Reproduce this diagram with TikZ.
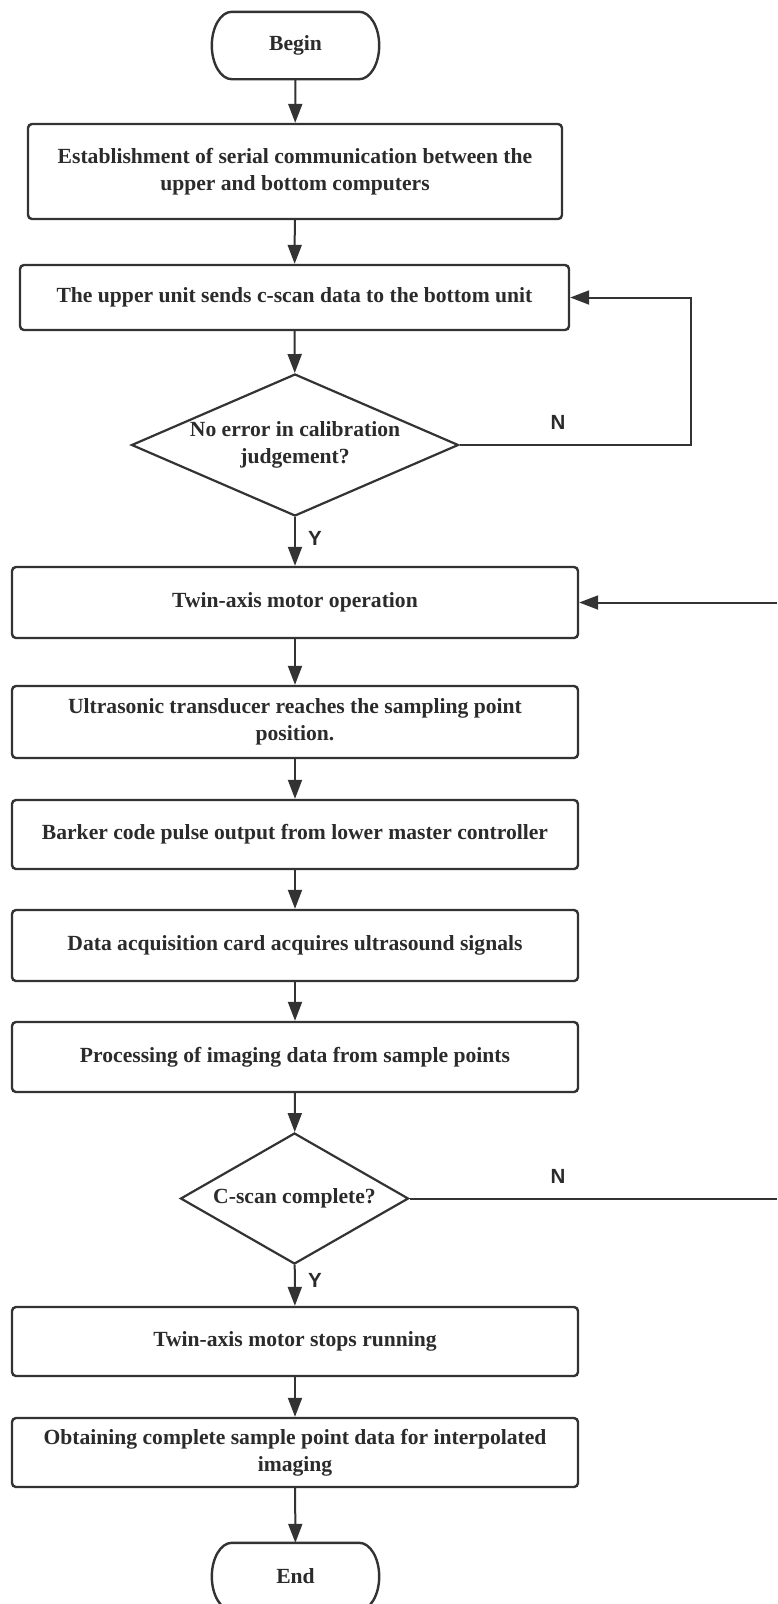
\documentclass[tikz,border=0pt]{standalone}
\usepackage{fontspec}
\setmainfont{Liberation Serif}
\newfontfamily\labelfont{Liberation Sans}
\usetikzlibrary{shapes.geometric,arrows.meta,calc}
\definecolor{ink}{HTML}{333333}
\definecolor{txt}{HTML}{2B2B2B}

% outline of a start/stop terminal drawn around a node's border
\newcommand\terminalpath[1]{%
  \draw[boxline]
    ($(#1.north west)+(20,0)$) -- ($(#1.north east)+(-20,0)$)
    .. controls ($(#1.north east)+(-9,0)$) and ($(#1.east)+(0,-18.5)$) .. (#1.east)
    .. controls ($(#1.east)+(0,18.5)$) and ($(#1.south east)+(-9,0)$) .. ($(#1.south east)+(-20,0)$)
    -- ($(#1.south west)+(20,0)$)
    .. controls ($(#1.south west)+(9,0)$) and ($(#1.west)+(0,18.5)$) .. (#1.west)
    .. controls ($(#1.west)+(0,-18.5)$) and ($(#1.north west)+(9,0)$) .. cycle;}

\begin{document}
\begin{tikzpicture}[x=1pt,y=-1pt,
  boxline/.style={draw=ink,line width=2.4pt},
  boxtext/.style={text=txt,align=center,font=\bfseries\fontsize{21.6}{27}\selectfont},
  stepbox/.style={boxline,boxtext,rectangle,rounded corners=4pt,inner sep=0pt,minimum width=566pt},
  terminal/.style={boxtext,rectangle,inner sep=0pt,minimum width=167pt,minimum height=67pt},
  decision/.style={boxtext,diamond,draw=ink,line width=2.2pt,inner sep=0pt},
  flow/.style={draw=ink,line width=2pt,-{Triangle[length=19pt,width=14pt]}},
  plainline/.style={draw=ink,line width=2pt},
  yn/.style={text=txt,font=\labelfont\bfseries\fontsize{20.5}{24}\selectfont,inner sep=0pt}
]
\fill[white] (0,0) rectangle (777,1604);
\useasboundingbox (0,0) rectangle (777,1604);
\clip (0,0) rectangle (777,1604);

% vertical column of steps
\node[terminal] (begin) at (295.5,45.5) {Begin};
\terminalpath{begin}
\node[stepbox,minimum width=534pt,minimum height=95pt] (b1) at (295,171.5)
  {Establishment of serial communication between the\\upper and bottom computers};
\node[stepbox,minimum width=549pt,minimum height=65pt] (b2) at (294.5,297.5)
  {The upper unit sends c-scan data to the bottom unit};
\node[decision,minimum width=327pt,minimum height=142pt,aspect=2.3] (d1) at (295,445)
  {No error in calibration\\judgement?};
\node[stepbox,minimum height=71pt] (b3) at (295,602.5) {Twin-axis motor operation};
\node[stepbox,minimum height=72pt] (b4) at (295,722)
  {Ultrasonic transducer reaches the sampling point\\position.};
\node[stepbox,minimum height=69pt] (b5) at (295,834.5)
  {Barker code pulse output from lower master controller};
\node[stepbox,minimum height=71pt] (b6) at (295,945.5)
  {Data acquisition card acquires ultrasound signals};
\node[stepbox,minimum height=70pt] (b7) at (295,1057)
  {Processing of imaging data from sample points};
\node[decision,minimum width=228pt,minimum height=131pt,aspect=1.74] (d2) at (294.5,1198.5)
  {C-scan complete?};
\node[stepbox,minimum height=69pt] (b8) at (295,1341.5) {Twin-axis motor stops running};
\node[stepbox,minimum height=69pt] (b9) at (295,1452.5)
  {Obtaining complete sample point data for interpolated\\imaging};
\node[terminal] (end) at (295.5,1576.5) {End};
\terminalpath{end}

% branch labels
\node[yn] (n1) at (558,422) {N};
\node[yn] (y1) at (315,538) {Y};
\node[yn] (n2) at (558,1176) {N};
\node[yn] (y2) at (315,1280) {Y};

% main flow
\draw[flow] (begin) -- (b1);
\draw[flow] (b1) -- (b2);
\draw[flow] (b2) -- (d1);
\draw[flow] (d1) -- (b3);
\draw[flow] (b3) -- (b4);
\draw[flow] (b4) -- (b5);
\draw[flow] (b5) -- (b6);
\draw[flow] (b6) -- (b7);
\draw[flow] (b7) -- (d2);
\draw[flow] (d2) -- (b8);
\draw[flow] (b8) -- (b9);
\draw[flow] (b9) -- (end);

% return paths
\coordinate (loopx) at (691,0);
\coordinate (rim) at (777,0);
\draw[flow] (d1.east) -- (d1.east -| loopx) |- (b2.east);
\draw[flow] (b3.east -| rim) -- (b3.east);
\draw[plainline] (d2.east) -- (d2.east -| rim);
\end{tikzpicture}
\end{document}
